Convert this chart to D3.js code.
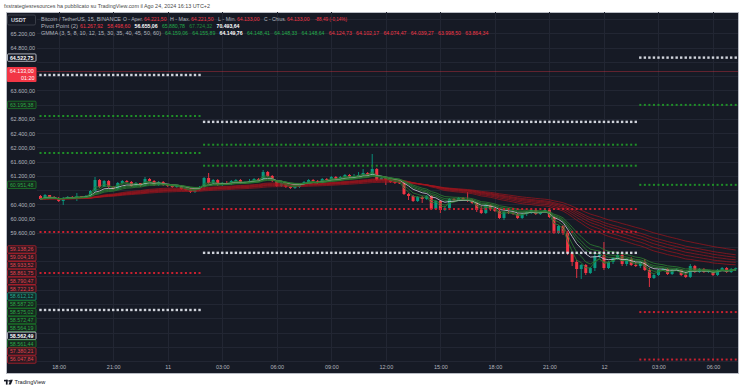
<!DOCTYPE html>
<meta charset="utf-8">
<style>
body { margin: 0; background: #fff; }
#chart { font-family: "Liberation Sans", Arial, sans-serif; }
#chart text { white-space: pre; }
</style>

<svg id="chart" width="743" height="390"></svg>
<script src="https://cdn.jsdelivr.net/npm/d3@7"></script>

<script>
// BTCUSDT 15m candles, 10 ago 17:00 -> 12 ago 07:15 (chart time, UTC+2)
var barStart = Date.UTC(2024, 7, 10, 17, 0);
var barMs = 15 * 60 * 1000;

var opens = [60638,60554,60666,60610,60582,60498,60582,60610,60600,60638,60610,60638,60779,61087,60891,61059,60891,60835,61003,61059,
  61031,60919,61003,60919,61115,61059,60947,61031,60947,60919,60891,60919,60835,60807,60751,60807,60891,61144,61003,61087,
  60947,61003,60975,61059,61087,61003,61031,61059,61115,61087,61312,61200,61059,60919,61003,60891,60863,60891,60975,61031,
  61087,61059,61003,61115,61087,61172,61115,61172,61228,61172,61200,61228,61284,61228,61396,61087,61144,61087,61031,61020,
  61003,60694,60638,60498,60610,60554,60638,60273,60498,60245,60301,60554,60526,60582,60526,60520,60442,60245,60161,60386,
  60273,60217,60021,60189,60161,60133,60021,60133,60189,60245,60133,60189,60245,60049,59600,59796,59600,59038,58786,58589,
  58702,58477,58617,58954,58982,58617,58786,58898,58982,58730,58870,58702,58673,58786,58561,58337,58421,58561,58589,58449,
  58561,58570,58421,58365,58673,58505,58589,58505,58533,58421,58561,58617,58505,58589];
var highs = [60666,60694,60666,60638,60610,60610,60638,60638,60722,60638,60666,60807,61172,61115,61087,61087,60919,61031,61087,61087,
  61059,61031,61003,61172,61144,61087,61059,61059,60975,60947,60947,60947,60863,60863,60835,60919,61172,61284,61115,61115,
  61031,61059,61087,61115,61115,61059,61115,61144,61144,61368,61340,61228,61087,61031,61031,60919,60919,61003,61059,61115,
  61115,61087,61144,61144,61200,61200,61200,61256,61256,61256,61312,61396,61312,61817,61424,61172,61172,61115,61087,61059,
  61031,60722,60666,60638,60638,60666,60666,60526,60526,60358,60582,60582,60610,60610,60751,60554,60470,60358,60414,60414,
  60301,60245,60217,60217,60189,60161,60161,60217,60273,60273,60217,60273,60273,60077,59824,59824,59656,59066,58842,58730,
  58730,58645,59010,59038,59347,58814,58926,59010,59010,58898,58926,58786,58814,58870,58617,58449,58589,58617,58617,58589,
  58617,58589,58505,58730,58702,58617,58617,58561,58561,58589,58645,58645,58617,58630];
var lows = [60526,60526,60582,60570,60470,60386,60554,60554,60498,60582,60610,60610,60751,60863,60891,60863,60807,60807,60975,61003,
  60891,60891,60891,60919,61031,60919,60919,60919,60891,60863,60863,60807,60779,60722,60722,60779,60807,60975,60975,60919,
  60919,60947,60947,61031,60975,60975,61003,61031,61059,61059,61172,61031,60891,60891,60863,60835,60835,60863,60947,61003,
  61031,60975,60975,61059,61059,61087,61059,61144,61144,61144,61200,61200,61200,61200,61059,61087,60947,61003,60975,60975,
  60666,60526,60470,60470,60442,60526,60245,60245,60161,60217,60273,60498,60498,60498,60470,60414,60189,60133,60133,60217,
  60189,59993,59965,60133,60105,59993,59993,60077,60133,60105,60105,60161,60021,59572,59572,59543,58982,58673,58337,58309,
  58421,58449,58533,58898,58561,58589,58730,58842,58673,58673,58673,58645,58617,58533,58084,58309,58393,58533,58421,58421,
  58533,58393,58337,58337,58477,58477,58477,58477,58393,58393,58533,58477,58477,58533];
var closes = [60554,60666,60610,60582,60498,60582,60610,60600,60638,60610,60638,60779,61087,60891,61059,60891,60835,61003,61059,61031,
  60919,61003,60919,61115,61059,60947,61031,60947,60919,60891,60919,60835,60807,60751,60807,60891,61144,61003,61087,60947,
  61003,60975,61059,61087,61003,61031,61059,61115,61087,61312,61200,61059,60919,61003,60891,60863,60891,60975,61031,61087,
  61059,61003,61115,61087,61172,61115,61172,61228,61172,61200,61228,61284,61228,61396,61087,61144,61087,61031,61020,61003,
  60694,60638,60498,60610,60554,60638,60273,60498,60245,60301,60554,60526,60582,60526,60520,60442,60245,60161,60386,60273,
  60217,60021,60189,60161,60133,60021,60133,60189,60245,60133,60189,60245,60049,59600,59796,59600,59038,58786,58589,58702,
  58477,58617,58954,58982,58617,58786,58898,58982,58730,58870,58702,58673,58786,58561,58337,58421,58561,58589,58449,58561,
  58570,58421,58365,58673,58505,58589,58505,58533,58421,58561,58617,58505,58589,58612];

// daily pivot levels, one entry per session (session opens 02:00 chart time)
var sessionStarts = ["2024-08-10T02:00", "2024-08-11T02:00", "2024-08-12T02:00"];
var pivR3 = [64035, 62719, 64522.75];
var pivR2 = [62884, 62078, 63195.38];
var pivR1 = [61846, 61489, 60951.48];
var pivS1 = [59628, 60273, 57380.21];
var pivS2 = [58477, 59632, 56047.84];
var pivS3 = [57439, 59043, 53805];

// GMMA periods
var gmmaShort = [3, 5, 8, 10, 12, 15];
var gmmaLong = [30, 35, 40, 45, 50, 60];

// axes
var priceTicks = [56000,56400,56800,57200,57600,58000,58400,58800,59200,59600,60000,60400,60800,
  61200,61600,62000,62400,62800,63200,63600,64000,64400,64800,65200,65600];
var timeTicks = ["2024-08-10T18:00","2024-08-10T21:00","2024-08-11T00:00","2024-08-11T03:00","2024-08-11T06:00",
  "2024-08-11T09:00","2024-08-11T12:00","2024-08-11T15:00","2024-08-11T18:00","2024-08-11T21:00",
  "2024-08-12T00:00","2024-08-12T03:00","2024-08-12T06:00"];

// legend values (live bar)
var ohlcNames = ["O - Aper.", "H - Max.", "L - Min.", "C - Chius."];
var ohlcValues = [64221.50, 64221.50, 64133.00, 64133.00];
var changeText = "-88,49 (-0,14%)";
var pivotLegend = [61267.92, 58498.60, 56655.06, 65880.78, 67724.32, 70493.64];
var pivotLegendColors = ["#f23645", "#f23645", "#ffffff", "#22ab4a", "#1f8a3a", "#ffffff"];
var gmmaLegend = [64159.06, 64155.89, 64149.76, 64148.41, 64148.33, 64148.64,
  64124.73, 64102.17, 64074.47, 64039.27, 63998.50, 63864.34];

// price scale tags
var lastPrice = 64133.00, countdown = "01:20";
var sideTagValues = [64522.75, 63195.38, 60951.48];
var sideTagKinds = ["white", "green", "green"];
var stackValues = [59138.26, 59004.16, 58933.52, 58861.75, 58790.47, 58722.15, 58612.12,
  58587.20, 58575.02, 58572.47, 58564.19, 58562.49, 58561.44, 57380.21, 56047.84];
var stackKinds = ["red","red","red","red","red","red","teal",
  "green","green","green","green","white","green","red","red"];

var loc = d3.formatLocale({decimal: ",", thousands: ".", grouping: [3], currency: ["", ""]});
var fmt = loc.format(",.2f");

var svg = d3.select("#chart");
var pane = {left: 37, right: 738, top: 12, bottom: 362};
var parseT = function(s) { return new Date(s + ":00Z"); };

var times = closes.map(function(d, i) { return new Date(barStart + i * barMs); });
var bars = closes.map(function(c, i) {
  return {t: times[i], o: opens[i], h: highs[i], l: lows[i], c: c};
});

var x = d3.scaleUtc()
    .domain([new Date(barStart - 0.77 * barMs), new Date(+times[times.length - 1] + 0.5 * barMs)])
    .range([pane.left, pane.right]);
var y = d3.scaleLinear().domain([55670, 65775]).range([373, 13]);

// page + panel
svg.append("rect").attr("width", 743).attr("height", 390).attr("fill", "#fff");
svg.append("rect")
    .attr("x", 6.5).attr("y", 12.5).attr("width", 732).attr("height", 361)
    .attr("fill", "#161a25").attr("stroke", "#b9bcc4");

svg.append("defs").append("clipPath").attr("id", "pane")
  .append("rect")
    .attr("x", pane.left).attr("y", pane.top)
    .attr("width", pane.right - pane.left).attr("height", pane.bottom - pane.top);

// grid
var grid = svg.append("g").attr("stroke", "#222633").attr("stroke-width", 1);
grid.selectAll("line.h").data(priceTicks).enter().append("line")
    .attr("x1", pane.left).attr("x2", pane.right)
    .attr("y1", function(d) { return Math.round(y(d)) + 0.5; })
    .attr("y2", function(d) { return Math.round(y(d)) + 0.5; });
grid.selectAll("line.v").data(timeTicks.map(parseT)).enter().append("line")
    .attr("y1", pane.top).attr("y2", pane.bottom)
    .attr("x1", function(d) { return Math.round(x(d)) + 0.5; })
    .attr("x2", function(d) { return Math.round(x(d)) + 0.5; });

var plot = svg.append("g").attr("clip-path", "url(#pane)");

// current price line
plot.append("line")
    .attr("x1", pane.left).attr("x2", pane.right)
    .attr("y1", y(lastPrice)).attr("y2", y(lastPrice))
    .attr("stroke", "#f23645").attr("stroke-opacity", 0.35);

// candles
var up = "#089981", down = "#f23645";
var candle = plot.append("g").selectAll("g").data(bars).enter().append("g")
    .attr("fill", function(d) { return d.c >= d.o ? up : down; })
    .attr("stroke", function(d) { return d.c >= d.o ? up : down; });
candle.append("line")
    .attr("x1", function(d) { return x(d.t); }).attr("x2", function(d) { return x(d.t); })
    .attr("y1", function(d) { return y(d.h); }).attr("y2", function(d) { return y(d.l); })
    .attr("stroke-width", 0.9);
candle.append("rect")
    .attr("stroke", "none")
    .attr("x", function(d) { return x(d.t) - 1.5; })
    .attr("width", 3)
    .attr("y", function(d) { return y(Math.max(d.o, d.c)); })
    .attr("height", function(d) { return Math.max(1, Math.abs(y(d.o) - y(d.c))); });

// GMMA
function ema(values, n) {
  var k = 2 / (n + 1), prev = values[0];
  return values.map(function(v, i) { prev = i ? v * k + prev * (1 - k) : v; return prev; });
}
var line = d3.line().x(function(d, i) { return x(times[i]); }).y(function(d) { return y(d); });
gmmaLong.forEach(function(n) {
  plot.append("path").attr("d", line(ema(closes, n)))
      .attr("fill", "none").attr("stroke", "#a3141d").attr("stroke-opacity", 0.7).attr("stroke-width", 1);
});
gmmaShort.forEach(function(n, i) {
  plot.append("path").attr("d", line(ema(closes, n)))
      .attr("fill", "none")
      .attr("stroke", i == 2 ? "#c9cbd3" : "#2a7a30")
      .attr("stroke-opacity", 0.85)
      .attr("stroke-width", 1);
});

// pivot dots, one per bar inside each session
var levels = [[pivR3, "#d1d4dc", 2.4], [pivR2, "#1f8f28", 2], [pivR1, "#1f8f28", 2],
              [pivS1, "#c8202f", 2], [pivS2, "#c8202f", 2], [pivS3, "#d1d4dc", 2.4]];
var starts = sessionStarts.map(parseT);
starts.forEach(function(s, si) {
  var end = si + 1 < starts.length ? starts[si + 1] : new Date(8.64e15);
  var sb = times.filter(function(t) { return t >= s && t < end; });
  levels.forEach(function(lv) {
    plot.append("g").attr("fill", lv[1]).selectAll("rect").data(sb).enter().append("rect")
        .attr("x", function(t) { return x(t) - lv[2] / 2; })
        .attr("y", y(lv[0][si]) - lv[2] / 2)
        .attr("width", lv[2]).attr("height", lv[2]);
  });
});

// stacked tag positions (labels push each other down, as on the price scale)
var stackY = [];
stackValues.forEach(function(v, i) {
  var yy = y(v);
  if (i && yy < stackY[i - 1] + 7.85) yy = stackY[i - 1] + 7.85;
  stackY.push(yy);
});
// everything that covers the scale: tags + currency box
var covers = stackY.concat(sideTagValues.map(y), [y(lastPrice), y(lastPrice) + 6, 20]);

// price axis (left); tick labels hidden where a tag sits on top
var yAxis = svg.append("g")
    .attr("transform", "translate(" + pane.left + ",0)")
    .call(d3.axisLeft(y).tickValues(priceTicks).tickFormat(fmt).tickSize(0).tickPadding(2));
yAxis.select(".domain").remove();
yAxis.selectAll(".tick")
    .filter(function(d) { return covers.some(function(c) { return Math.abs(c - y(d)) < 5.5; }); })
    .remove();
yAxis.selectAll("text").attr("fill", "#b2b5be").attr("font-size", 5.5)
    .attr("font-family", "Liberation Sans, Arial, sans-serif");

// time axis
var xAxis = svg.append("g")
    .attr("transform", "translate(0," + pane.bottom + ")")
    .call(d3.axisBottom(x).tickValues(timeTicks.map(parseT)).tickSize(0).tickPadding(3)
      .tickFormat(function(d) { return d.getUTCHours() === 0 ? d3.utcFormat("%-d")(d) : d3.utcFormat("%H:%M")(d); }));
xAxis.select(".domain").remove();
xAxis.selectAll("text").attr("fill", "#b2b5be").attr("font-size", 5.5)
    .attr("font-family", "Liberation Sans, Arial, sans-serif");

// price tags on the scale
var tagStyle = {
  red:   {stroke: "#b8202c", fill: "#2a1a22", text: "#e0424e"},
  green: {stroke: "#1b7d2a", fill: "#17261f", text: "#2aa845"},
  teal:  {stroke: "#089981", fill: "#142725", text: "#22ab94"},
  white: {stroke: "#d1d4dc", fill: "#161a25", text: "#ffffff"}
};
function tag(yc, v, kind) {
  var s = tagStyle[kind];
  svg.append("rect").attr("x", 7.5).attr("y", yc - 3.7).attr("width", 28.5).attr("height", 7.4)
      .attr("rx", 1).attr("fill", s.fill).attr("stroke", s.stroke).attr("stroke-width", 0.8);
  svg.append("text").attr("x", 21.7).attr("y", yc + 1.9).attr("text-anchor", "middle")
      .attr("font-size", 5.3).attr("fill", s.text).attr("font-weight", kind == "white" ? "bold" : null)
      .text(fmt(v));
}
stackValues.forEach(function(v, i) { tag(stackY[i], v, stackKinds[i]); });
sideTagValues.forEach(function(v, i) { tag(y(v), v, sideTagKinds[i]); });

// live price tag with countdown
var ly = y(lastPrice);
svg.append("rect").attr("x", 7).attr("y", ly - 4.5).attr("width", 29.5).attr("height", 15)
    .attr("rx", 1).attr("fill", "#f23645");
svg.append("text").attr("x", 21.7).attr("y", ly + 2).attr("text-anchor", "middle")
    .attr("font-size", 5.4).attr("fill", "#fff").text(fmt(lastPrice));
svg.append("text").attr("x", 34.5).attr("y", ly + 8.8).attr("text-anchor", "end")
    .attr("font-size", 5.4).attr("fill", "#fff").text(countdown);

// currency box
svg.append("rect").attr("x", 7.5).attr("y", 15).attr("width", 28).attr("height", 10).attr("rx", 1.5)
    .attr("fill", "#161a25").attr("stroke", "#434651").attr("stroke-width", 0.8);
svg.append("text").attr("x", 11).attr("y", 22).attr("font-size", 5.5).attr("font-weight", "bold")
    .attr("fill", "#d1d4dc").text("USDT");

// legend: each item placed at its own x and fitted to its width in the original
var gray = "#b2b5be", red = "#f23645", green = "#22ab4a";
function legendItem(xx, yy, w, txt, color, bold) {
  svg.append("text").attr("x", xx).attr("y", yy).attr("font-size", 5.5)
      .attr("textLength", w).attr("lengthAdjust", "spacingAndGlyphs")
      .attr("fill", color).attr("font-weight", bold ? "bold" : null).text(txt);
}
legendItem(41, 20.5, 80, "Bitcoin / TetherUS, 15, BINANCE", gray);
var ohlcX = [123, 170, 218, 264];
var ohlcW = [20, 20, 18, 22];
ohlcNames.forEach(function(n, i) {
  legendItem(ohlcX[i], 20.5, ohlcW[i], n, gray);
  legendItem(ohlcX[i] + ohlcW[i] + 1, 20.5, 22.5, fmt(ohlcValues[i]), red);
});
legendItem(315, 20.5, 32, changeText, red);

legendItem(41, 27.8, 37, "Pivot Point (2)", gray);
pivotLegend.forEach(function(v, i) {
  var white = pivotLegendColors[i] == "#ffffff";
  legendItem(80 + i * 27.3, 27.8, 23, fmt(v), pivotLegendColors[i], white);
});

legendItem(41, 35.1, 120, "GMMA (" + gmmaShort.concat(gmmaLong).join(", ") + ")", gray);
gmmaLegend.forEach(function(v, i) {
  var c = i < 6 ? (i == 2 ? "#ffffff" : green) : red;
  legendItem(165 + i * 27.3, 35.1, 23, fmt(v), c, i == 2);
});

// header and footer
svg.append("text").attr("x", 4).attr("y", 8).attr("font-size", 5.5).attr("fill", "#4a4a4a")
    .attr("textLength", 206).attr("lengthAdjust", "spacingAndGlyphs")
    .text("fxstrategiesresources ha pubblicato su TradingView.com il Ago 24, 2024 16:13 UTC+2");
var logo = svg.append("g").attr("fill", "#131722");
logo.append("rect").attr("x", 4).attr("y", 379.8).attr("width", 3.6).attr("height", 1.6);
logo.append("rect").attr("x", 5.9).attr("y", 379.8).attr("width", 1.7).attr("height", 4.8);
logo.append("circle").attr("cx", 9.2).attr("cy", 380.8).attr("r", 0.9);
logo.append("path").attr("d", "M10.4,379.8 L12.8,379.8 L10.9,384.6 L8.6,384.6 Z");
svg.append("text").attr("x", 14.5).attr("y", 384.3).attr("font-size", 5.6).attr("fill", "#131722")
    .text("TradingView");
</script>
